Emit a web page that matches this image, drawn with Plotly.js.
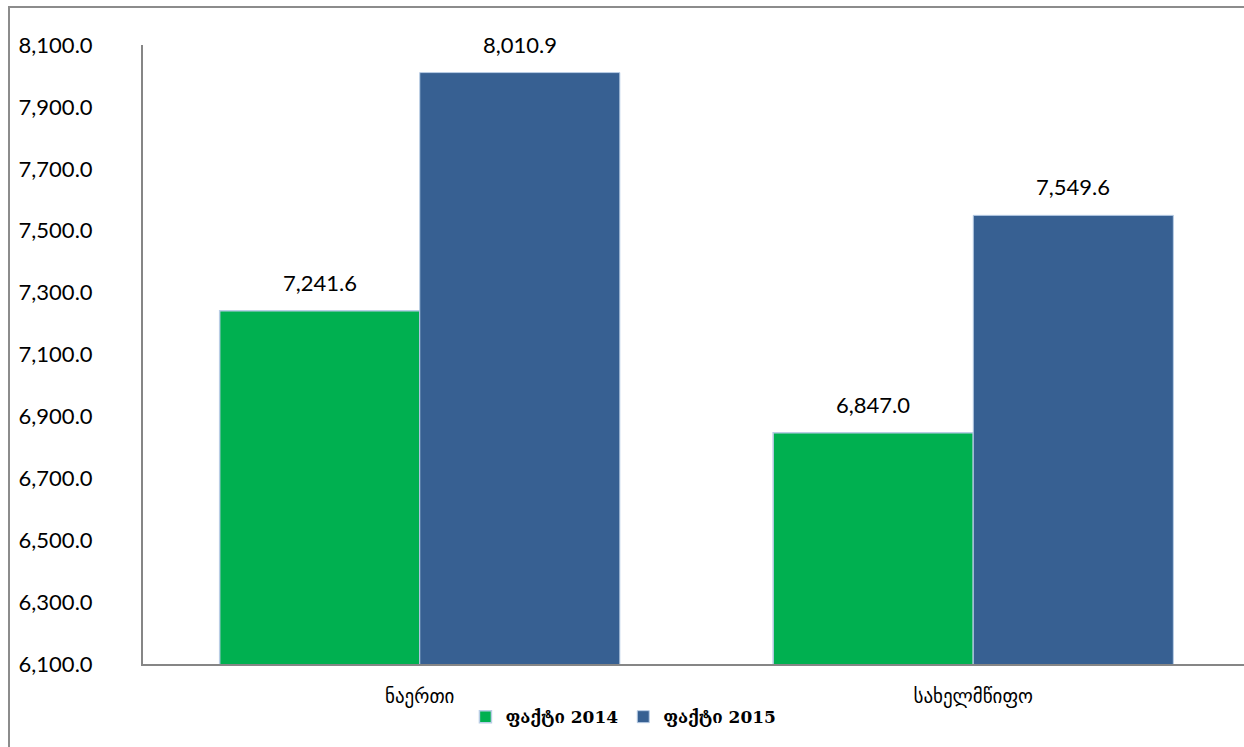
<!DOCTYPE html>
<html><head><meta charset="utf-8">
<script src="https://cdn.plot.ly/plotly-3.0.1.min.js"></script>
<style>
html,body{margin:0;padding:0;background:#fff;overflow:hidden;}
#wrap{position:absolute;left:0;top:0;width:1244px;height:747px;overflow:hidden;}
#frame{position:absolute;left:8px;top:6px;width:1300px;height:800px;border-left:2px solid #8c8c8c;border-top:2px solid #8c8c8c;}
#chart{position:absolute;left:0;top:0;width:1250px;height:747px;}
</style></head>
<body>
<div id="wrap"><div id="frame"></div><div id="chart"></div></div>
<script>
const categories = ["ნაერთი", "სახელმწიფო"];
const seriesNames = ["ფაქტი 2014", "ფაქტი 2015"];
const values2014 = [7241.6, 6847.0];
const values2015 = [8010.9, 7549.6];
const yTicks = [6100, 6300, 6500, 6700, 6900, 7100, 7300, 7500, 7700, 7900, 8100];

const labelFont = {family: "Lato, 'Open Sans', sans-serif", size: 22, color: "#000"};
function fmt(v){ return v.toLocaleString("en-US",{minimumFractionDigits:1,maximumFractionDigits:1}); }

const bargap = 0.277;
const half = (1 - bargap) / 4;

const traces = [
  {type:"bar", name:seriesNames[0], x:categories, y:values2014,
   marker:{color:"#00B050", line:{color:"#B9CDE5", width:1.5}}},
  {type:"bar", name:seriesNames[1], x:categories, y:values2015,
   marker:{color:"#376092", line:{color:"#B9CDE5", width:1}}}
];

const annotations = [];
[values2014, values2015].forEach((vals, si) => {
  vals.forEach((v, ci) => {
    annotations.push({x: ci + (si === 0 ? -half : half), y: v, xref:"x", yref:"y",
      text: fmt(v), showarrow:false, yanchor:"bottom", yshift:13, font: labelFont});
  });
});

const layout = {
  width:1250, height:747,
  margin:{l:143, r:0, t:45, b:83},
  paper_bgcolor:"rgba(0,0,0,0)", plot_bgcolor:"rgba(0,0,0,0)",
  barmode:"group", bargap:bargap, bargroupgap:0,
  showlegend:true,
  legend:{orientation:"h", x:0.434, xanchor:"center", yref:"container", y:0.04, yanchor:"middle",
          font:{family:"'DejaVu Serif', serif", size:17, color:"#000", weight:"bold"}, itemwidth:30, traceorder:"normal"},
  xaxis:{type:"category", showline:true, linecolor:"#868686", linewidth:2, ticks:"", ticklabelstandoff:14,
         tickfont:{family:"'DejaVu Sans', sans-serif", size:19, color:"#000"}, showgrid:false, zeroline:false},
  yaxis:{range:[6100,8100], tickvals:yTicks, ticktext:yTicks.map(fmt), showline:true, linecolor:"#868686", linewidth:2,
         ticks:"", showgrid:false, zeroline:false, ticklabelstandoff:44,
         tickfont:labelFont},
  annotations: annotations
};

Plotly.newPlot("chart", traces, layout, {displayModeBar:false, staticPlot:true});
</script>
</body></html>
